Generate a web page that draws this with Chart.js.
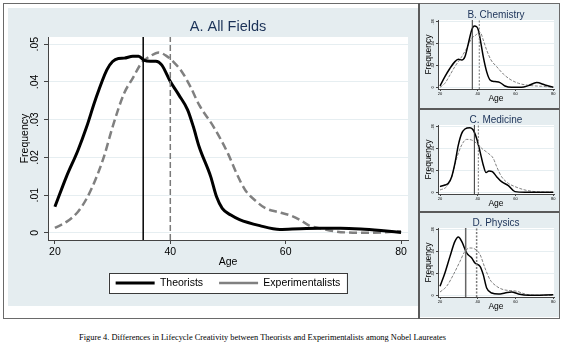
<!DOCTYPE html>
<html>
<head>
<meta charset="utf-8">
<script src="https://cdn.jsdelivr.net/npm/chart.js@4.4.1/dist/chart.umd.min.js"></script>
<style>
  html, body { margin: 0; padding: 0; background: #fff; }
  body { width: 570px; height: 354px; position: relative; overflow: hidden; font-family: "Liberation Sans", Arial, sans-serif; }
  .abs { position: absolute; }
  .bg { background: #e5edf0; }
  .line { background: #5a5a5a; }
  canvas { position: absolute; }
  #caption { left: 0; width: 525px; top: 332px; text-align: center; font-family: "Liberation Serif", "Times New Roman", serif; font-size: 8.4px; line-height: 11px; color: #000; white-space: nowrap; }
</style>
</head>
<body>
  <div class="abs" style="left:3px;top:3px;width:557px;height:316px;border:1px solid #6a6a6a;box-sizing:border-box;"></div>
  <div class="abs bg" style="left:8px;top:8px;width:410px;height:298px;"></div>
  <div class="abs bg" style="left:420px;top:4px;width:139px;height:104px;"></div>
  <div class="abs bg" style="left:420px;top:110px;width:139px;height:101px;"></div>
  <div class="abs bg" style="left:420px;top:213px;width:139px;height:104px;"></div>
  <div class="abs line" style="left:418px;top:3px;width:2px;height:316px;"></div>
  <div class="abs line" style="left:420px;top:108px;width:139px;height:2px;"></div>
  <div class="abs line" style="left:420px;top:211px;width:139px;height:2px;"></div>

  <canvas id="cAll" width="410" height="298" style="left:8px;top:8px;"></canvas>
  <canvas id="cChem" width="137" height="100" style="left:421px;top:4px;"></canvas>
  <canvas id="cMed" width="137" height="100" style="left:421px;top:109px;"></canvas>
  <canvas id="cPhys" width="137" height="100" style="left:421px;top:212px;"></canvas>

  <div id="caption" class="abs">Figure 4. Differences in Lifecycle Creativity between Theorists and Experimentalists among Nobel Laureates</div>

<script>
// ---------------- DATA ----------------
const seriesNames = ['Theorists', 'Experimentalists'];
const xTicks = [20, 40, 60, 80];
const yTicksAll = [0, 0.01, 0.02, 0.03, 0.04, 0.05];
const yTicksField = [0, 0.02, 0.04, 0.06];

// A. All Fields
const allTheoristAge  = [20, 22, 24, 25.5, 27, 29, 30, 31, 32, 33.5, 34.5, 35.5, 36.5, 37.5, 38.5, 40, 41.5, 43, 44, 45, 47, 48, 49, 50.5, 52, 55.5, 59, 62.5, 66, 69.5, 73, 76.5, 80];
const allTheoristFreq = [0.0069, 0.0149, 0.0219, 0.0281, 0.0352, 0.0432, 0.0454, 0.0462, 0.0463, 0.0468, 0.0468, 0.0457, 0.0455, 0.0455, 0.0445, 0.0401, 0.0365, 0.0326, 0.0281, 0.0228, 0.0149, 0.0096, 0.0065, 0.0047, 0.0035, 0.0019, 0.0009, 0.0011, 0.0012, 0.0012, 0.0010, 0.0006, 0.0001];
const allExperAge  = [20, 22, 24, 25.5, 27, 28.5, 30, 32, 33.5, 35, 36.5, 38, 39.5, 40.5, 42, 43.5, 45, 47.5, 50, 51.5, 53, 55, 56.5, 59, 61, 62.5, 64, 66, 68.5, 70.5, 73, 76.5, 80];
const allExperFreq = [0.0013, 0.0029, 0.0056, 0.0091, 0.0140, 0.0202, 0.0281, 0.0370, 0.0410, 0.0450, 0.0468, 0.0478, 0.0467, 0.0454, 0.0427, 0.0387, 0.0339, 0.0281, 0.0210, 0.0157, 0.0113, 0.0082, 0.0065, 0.0054, 0.0045, 0.0034, 0.0020, 0.0012, 0.0004, 0.0001, 0.0000, 0.0001, 0.0004];
const allTheoristMark = 35.3;
const allExperMark = 40.0;

// B. Chemistry
const chemTheoristAge  = [20, 22.6, 25.3, 27.9, 29.7, 31.5, 33.2, 35, 36.8, 38.2, 39.4, 40.3, 41.7, 42.9, 44.7, 46.5, 49.1, 51.8, 54.4, 57.9, 63.2, 66.8, 71.2, 75.6, 80];
const chemTheoristFreq = [0.0012, 0.0097, 0.0174, 0.0235, 0.0256, 0.0250, 0.0280, 0.0400, 0.0524, 0.0560, 0.0554, 0.0524, 0.0400, 0.0280, 0.0143, 0.0067, 0.0052, 0.0043, 0.0012, 0.0000, 0.0000, 0.0015, 0.0043, 0.0021, 0.0000];
const chemExperAge  = [20, 22.6, 25.3, 27.9, 31.5, 34.1, 36.8, 39.4, 40.6, 41.7, 42.9, 44.7, 47, 50, 53.5, 57.1, 61.5, 66.8, 73.8, 80];
const chemExperFreq = [0.0000, 0.0037, 0.0113, 0.0190, 0.0280, 0.0356, 0.0448, 0.0484, 0.0509, 0.0493, 0.0433, 0.0341, 0.0250, 0.0189, 0.0122, 0.0073, 0.0037, 0.0018, 0.0009, 0.0000];
const chemTheoristMark = 37.1;
const chemExperMark = 40.8;

// C. Medicine
const medTheoristAge  = [20, 22.6, 24.4, 26.2, 27.9, 29.7, 31.5, 33.2, 35.9, 37.6, 39.4, 41.2, 42.9, 44.4, 45.9, 47.7, 50, 52.6, 56.2, 59.7, 65, 80];
const medTheoristFreq = [0.0052, 0.0067, 0.0082, 0.0143, 0.0265, 0.0432, 0.0539, 0.0579, 0.0591, 0.0570, 0.0493, 0.0372, 0.0250, 0.0180, 0.0195, 0.0189, 0.0143, 0.0097, 0.0061, 0.0006, 0.0000, 0.0000];
const medExperAge  = [20, 23.5, 26.2, 28.8, 31.5, 34.1, 36.8, 39.4, 42.1, 45.6, 48.2, 50, 52.6, 56.2, 59.7, 65, 70.3, 80];
const medExperFreq = [0.0021, 0.0052, 0.0143, 0.0310, 0.0433, 0.0484, 0.0478, 0.0448, 0.0402, 0.0356, 0.0311, 0.0235, 0.0143, 0.0082, 0.0052, 0.0021, 0.0006, 0.0000];
const medTheoristMark = 38.2;
const medExperMark = 40.3;

// D. Physics
const physTheoristAge  = [20, 22.6, 25.3, 27.9, 29.7, 31.5, 34.1, 36.8, 38.5, 41.2, 42.9, 44.7, 47.4, 50.9, 54.4, 57.9, 61.5, 66.8, 80];
const physTheoristFreq = [0.0082, 0.0204, 0.0356, 0.0493, 0.0533, 0.0493, 0.0387, 0.0341, 0.0295, 0.0265, 0.0189, 0.0067, 0.0021, 0.0012, 0.0021, 0.0030, 0.0012, 0.0000, 0.0006];
const physExperAge  = [20, 23.5, 27.1, 30.6, 33.2, 35.9, 38.5, 41.2, 43.8, 46.5, 50, 53.5, 57.1, 60.6, 65, 70.3, 80];
const physExperFreq = [0.0030, 0.0082, 0.0189, 0.0311, 0.0402, 0.0433, 0.0423, 0.0372, 0.0250, 0.0143, 0.0082, 0.0052, 0.0043, 0.0037, 0.0012, 0.0000, 0.0000];
const physTheoristMark = 33.6;
const physExperMark = 39.4;

// ---------------- RENDERING ----------------
const FONT = '"Liberation Sans", Arial, Helvetica, sans-serif';
Chart.defaults.font.family = FONT;
Chart.defaults.color = '#000';

const pts = (ages, freqs) => ages.map((a, i) => ({ x: a, y: freqs[i] }));
const fmt = v => (v === 0 ? '0' : v.toFixed(2).replace(/^0/, ''));

const decoPlugin = {
  id: 'deco',
  beforeDraw(chart, args, opts) {
    const { ctx, chartArea: a } = chart;
    ctx.save();
    ctx.fillStyle = '#ffffff';
    ctx.fillRect(a.left, a.top, a.right - a.left, a.bottom - a.top);
    if (opts && opts.legendFrame && chart.legend && chart.legend.legendHitBoxes && chart.legend.legendHitBoxes.length) {
      const hb = chart.legend.legendHitBoxes;
      const l = Math.min(...hb.map(h => h.left)) - 7;
      const r = Math.max(...hb.map(h => h.left + h.width)) + 6;
      const t = hb[0].top - 4.75;
      const b = hb[0].top + hb[0].height + 4.75;
      ctx.fillStyle = '#ffffff';
      ctx.fillRect(l, t, r - l, b - t);
      ctx.strokeStyle = '#3a3a3a';
      ctx.lineWidth = 1;
      ctx.strokeRect(Math.round(l) + 0.5, Math.round(t) + 0.5, Math.round(r - l), Math.round(b - t));
    }
    ctx.restore();
  }
};

function buildChart(id, g) {
  const refLine = (x, color, width, dash) => ({
    label: '', data: [{ x: x, y: g.yMin }, { x: x, y: g.yMax }],
    borderColor: color, borderWidth: width, borderDash: dash, pointRadius: 0, tension: 0, fill: false
  });
  return new Chart(document.getElementById(id), {
    type: 'line',
    data: {
      datasets: [
        refLine(g.tMark, g.tMarkColor, g.markW, []),
        refLine(g.eMark, '#7a7a7a', g.markW, g.markDash),
        { label: seriesNames[0], data: pts(g.tAge, g.tFreq), borderColor: '#000', borderWidth: g.tW,
          pointRadius: 0, cubicInterpolationMode: 'monotone', fill: false, borderJoinStyle: 'round' },
        { label: seriesNames[1], data: pts(g.eAge, g.eFreq), borderColor: '#808080', borderWidth: g.eW,
          borderDash: g.eDash, pointRadius: 0, cubicInterpolationMode: 'monotone', fill: false }
      ]
    },
    options: {
      responsive: false, animation: false, devicePixelRatio: 1,
      events: [],
      layout: { padding: g.pad },
      scales: {
        x: {
          type: 'linear', min: g.xMin, max: g.xMax,
          afterBuildTicks: s => { s.ticks = xTicks.map(v => ({ value: v })); },
          afterFit: s => { s.height = g.xH; },
          ticks: { font: { size: g.tickFs }, color: '#000', padding: g.xTickPad, maxRotation: 0, autoSkip: false },
          grid: { drawOnChartArea: false, tickLength: g.tickLen, tickColor: '#444', tickWidth: 1 },
          border: { color: '#444', width: 1 },
          title: { display: true, text: 'Age', font: { size: g.axFs }, color: '#000', padding: { top: 0, bottom: g.xTitlePadB } }
        },
        y: {
          type: 'linear', min: g.yMin, max: g.yMax,
          afterBuildTicks: s => { s.ticks = g.yTicks.map(v => ({ value: v })); },
          afterFit: s => { s.width = g.yW; },
          ticks: { font: { size: g.tickFs }, color: '#000', padding: g.yTickPad, minRotation: 90, maxRotation: 90,
                   crossAlign: 'center', autoSkip: false, callback: v => fmt(v) },
          grid: { color: '#e6eef1', lineWidth: 1, tickLength: g.tickLen, tickColor: '#444', tickWidth: 1 },
          border: { color: '#444', width: 1 },
          title: { display: true, text: 'Frequency', font: { size: g.axFs }, color: '#000', padding: { top: g.yTitlePadT, bottom: 0 } }
        }
      },
      plugins: {
        title: { display: true, text: g.title, fullSize: false, color: '#1b3258',
                 font: { size: g.titleFs, weight: 'normal', lineHeight: g.titleLh }, padding: g.titlePad },
        legend: g.legend ? {
          display: true, position: 'bottom', fullSize: false,
          labels: { usePointStyle: true, pointStyle: 'line', pointStyleWidth: 39, padding: 16,
                    font: { size: 10.5 }, color: '#000', filter: item => item.datasetIndex >= 2 }
        } : { display: false },
        tooltip: { enabled: false },
        deco: { legendFrame: !!g.legend }
      }
    },
    plugins: [decoPlugin]
  });
}

buildChart('cAll', {
  title: 'A. All Fields', titleFs: 14.5, titleLh: 1.2, titlePad: { top: 10.3, bottom: 1.3 },
  tAge: allTheoristAge, tFreq: allTheoristFreq, eAge: allExperAge, eFreq: allExperFreq,
  tMark: allTheoristMark, eMark: allExperMark, tMarkColor: '#000', markW: 1.5, markDash: [6, 3],
  tW: 3, eW: 2.5, eDash: [8, 4],
  xMin: 18.8, xMax: 81.2, yMin: -0.0019, yMax: 0.0519, yTicks: yTicksAll,
  pad: { left: 0, right: 10, top: 0, bottom: 7.75 },
  xH: 21.75, yW: 40, tickLen: 4, tickFs: 10.5, axFs: 10.5,
  xTickPad: 1.7, yTickPad: 1.7, xTitlePadB: -6.55, yTitlePadT: 10.7, legend: true
});

const smallGeom = {
  titleFs: 10, titleLh: 1.0, titlePad: { top: 6, bottom: 0 },
  markW: 1, markDash: [2, 1.5], tW: 1.5, eW: 1, eDash: [3, 1.5],
  xMin: 18.94, xMax: 80.37, yMin: -0.00156, yMax: 0.06156, yTicks: yTicksField,
  pad: { left: 0, right: 4, top: 0, bottom: 0 },
  xH: 15, yW: 17, tickLen: 2, tickFs: 4, axFs: 8.5,
  xTickPad: 0.6, yTickPad: 0, xTitlePadB: 0, yTitlePadT: 2.4, legend: false
};

buildChart('cChem', Object.assign({}, smallGeom, {
  title: 'B. Chemistry', tAge: chemTheoristAge, tFreq: chemTheoristFreq, eAge: chemExperAge, eFreq: chemExperFreq,
  tMark: chemTheoristMark, eMark: chemExperMark, tMarkColor: '#333'
}));
buildChart('cMed', Object.assign({}, smallGeom, {
  title: 'C. Medicine', tAge: medTheoristAge, tFreq: medTheoristFreq, eAge: medExperAge, eFreq: medExperFreq,
  tMark: medTheoristMark, eMark: medExperMark, tMarkColor: '#333'
}));
buildChart('cPhys', Object.assign({}, smallGeom, {
  title: 'D. Physics', tAge: physTheoristAge, tFreq: physTheoristFreq, eAge: physExperAge, eFreq: physExperFreq,
  tMark: physTheoristMark, eMark: physExperMark, tMarkColor: '#666', markW: 1.5
}));
</script>
</body>
</html>
